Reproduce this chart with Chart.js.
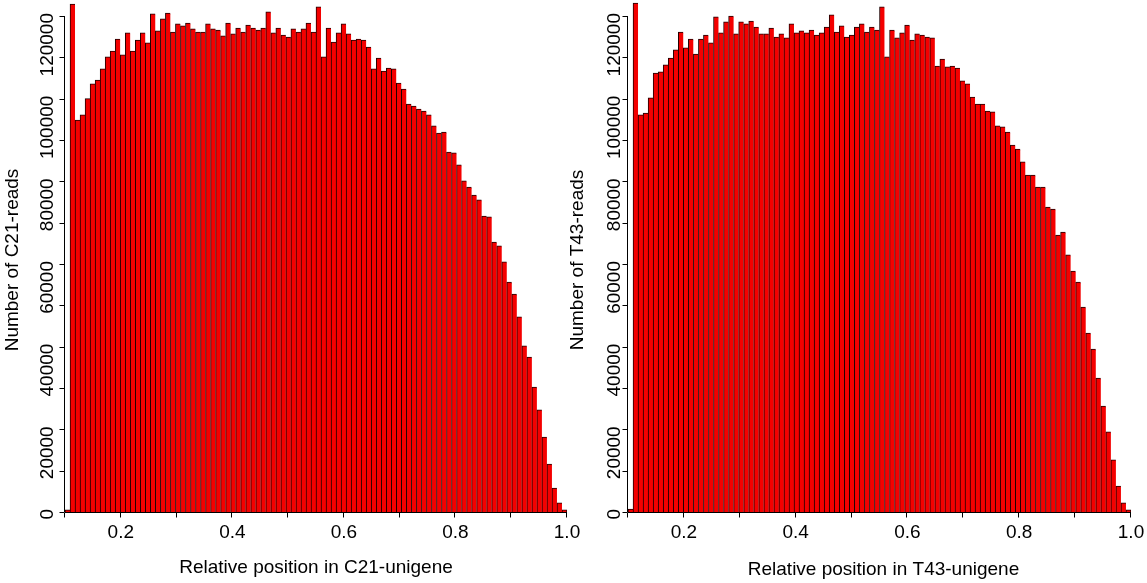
<!DOCTYPE html>
<html>
<head>
<meta charset="utf-8">
<script src="https://cdn.jsdelivr.net/npm/chart.js@4/dist/chart.umd.min.js"></script>
<style>
  html, body { margin: 0; padding: 0; background: #fff; }
  .panel { position: absolute; top: 0; left: 0; }
</style>
</head>
<body>
<canvas id="c21" class="panel" width="1147" height="583"></canvas>
<canvas id="t43" class="panel" width="1147" height="583"></canvas>
<script>
// reads per relative-position bin (100 bins between 0.1 and 1.0)
const c21Reads = [
  500, 122900, 94800, 96100, 100000, 103600, 104500, 107200, 110100, 111500,
  114400, 110600, 115900, 111500, 114200, 115900, 113500, 120500, 116400, 119300,
  120700, 116100, 118100, 117600, 118300, 116900, 116100, 116100, 118100, 116900,
  116600, 115200, 118300, 115700, 117100, 116100, 117800, 117100, 116600, 117100,
  121000, 115900, 117100, 115400, 114900, 116900, 116100, 116900, 118300, 116100,
  122200, 110100, 117100, 113700, 115900, 118100, 115700, 114200, 114400, 114200,
  112500, 107200, 109800, 106700, 107400, 107200, 103800, 102300, 98700, 98200,
  97500, 97000, 96100, 93400, 91700, 91900, 87100, 86900, 84000, 80100,
  78600, 76700, 75500, 71600, 71400, 65300, 64400, 60500, 55600, 52700,
  47200, 40200, 37500, 30200, 24700, 18100, 11600, 5800, 2200, 500
];
const t43Reads = [
  700, 123100, 96100, 96500, 100200, 106200, 106500, 108200, 109800, 111800,
  116100, 112300, 114400, 110800, 114400, 115400, 113500, 119800, 115900, 118600,
  120000, 115700, 118600, 118100, 118800, 117300, 115700, 115700, 117100, 114900,
  115700, 114700, 118100, 115900, 116400, 115900, 116600, 115400, 115900, 117300,
  120300, 116100, 117600, 114900, 115400, 117300, 118100, 116100, 117300, 116600,
  122200, 110100, 116600, 114700, 115900, 117800, 114200, 115700, 115400, 114900,
  114700, 107900, 109600, 107700, 107900, 107400, 104300, 103600, 100400, 98700,
  98700, 97000, 96800, 93400, 93200, 91900, 88800, 87800, 84700, 81500,
  81500, 78600, 78600, 73800, 73300, 67000, 67700, 62200, 58300, 55600,
  49600, 43300, 39400, 32400, 25600, 19400, 12600, 6300, 2200, 500
];
const binStart = 0.1;
const binWidth = 0.009;
const binLabels = c21Reads.map((_, i) => (binStart + binWidth * i).toFixed(3));

const xTicks = [0.1, 0.2, 0.3, 0.4, 0.5, 0.6, 0.7, 0.8, 0.9, 1.0];
const xTickLabels = ['', '0.2', '', '0.4', '', '0.6', '', '0.8', '', '1.0'];
const yTicks = [0, 10000, 20000, 30000, 40000, 50000, 60000, 70000, 80000, 90000, 100000, 110000, 120000];
const yTickLabels = ['0', '', '20000', '', '40000', '', '60000', '', '80000', '', '100000', '', '120000'];

const FONT = '19px "Liberation Sans", Arial, sans-serif';

// R-style axes drawn from the chart's own scales
const rAxes = {
  id: 'rAxes',
  afterDraw(chart, args, o) {
    const ctx = chart.ctx;
    const xs = chart.scales.xv;
    const ys = chart.scales.y;
    ctx.save();
    ctx.strokeStyle = '#000';
    ctx.fillStyle = '#000';
    ctx.lineWidth = 1;
    ctx.font = FONT;

    // x axis
    const yBase = Math.round(ys.getPixelForValue(0)) + 0.5;
    const xFirst = xs.getPixelForValue(xTicks[0]);
    const xLast = xs.getPixelForValue(xTicks[xTicks.length - 1]);
    ctx.beginPath();
    ctx.moveTo(xFirst, yBase);
    ctx.lineTo(xLast, yBase);
    xTicks.forEach(v => {
      const px = Math.round(xs.getPixelForValue(v)) - 0.5;
      ctx.moveTo(px, yBase);
      ctx.lineTo(px, yBase + 5);
    });
    ctx.stroke();
    ctx.textAlign = 'center';
    ctx.textBaseline = 'alphabetic';
    xTicks.forEach((v, i) => {
      if (xTickLabels[i]) ctx.fillText(xTickLabels[i], xs.getPixelForValue(v), 538);
    });
    ctx.fillText(o.xTitle, (xFirst + xLast) / 2 + o.xTitleShift, o.xTitleY);

    // y axis
    const xAxis = Math.round(xs.getPixelForValue(xTicks[0])) - 0.5;
    ctx.beginPath();
    ctx.moveTo(xAxis, ys.getPixelForValue(yTicks[0]));
    ctx.lineTo(xAxis, ys.getPixelForValue(yTicks[yTicks.length - 1]));
    yTicks.forEach(v => {
      const py = Math.round(ys.getPixelForValue(v)) + 0.5;
      ctx.moveTo(xAxis, py);
      ctx.lineTo(xAxis - 5, py);
    });
    ctx.stroke();
    yTicks.forEach((v, i) => {
      if (!yTickLabels[i]) return;
      ctx.save();
      ctx.translate(o.yLabelX, ys.getPixelForValue(v) - 3);
      ctx.rotate(-Math.PI / 2);
      ctx.textAlign = 'right';
      ctx.fillText(yTickLabels[i], 0, 0);
      ctx.restore();
    });
    ctx.save();
    ctx.translate(o.yTitleX, o.yTitleY);
    ctx.rotate(-Math.PI / 2);
    ctx.textAlign = 'center';
    ctx.fillText(o.yTitle, 0, 0);
    ctx.restore();

    ctx.restore();
  }
};

function makeHist(canvasId, values, pad, axisOpts) {
  const last = values.length - 1;
  return new Chart(document.getElementById(canvasId), {
    type: 'bar',
    data: {
      labels: binLabels,
      datasets: [{
        data: values,
        backgroundColor: '#f40000',
        borderColor: '#1e0000',
        borderWidth: (c) => c.dataIndex === last
          ? { left: 1, top: 1, right: 1, bottom: 0 }
          : { left: 1, top: 1, right: 0, bottom: 0 },
        borderSkipped: 'start',
        barPercentage: 1,
        categoryPercentage: 1,
      }]
    },
    options: {
      responsive: false,
      animation: false,
      layout: { padding: pad },
      plugins: {
        legend: { display: false },
        tooltip: { enabled: false },
        rAxes: axisOpts,
      },
      scales: {
        x: { type: 'category', display: false, offset: true },
        xv: { type: 'linear', axis: 'x', position: 'bottom', display: false, offset: false, min: 0.1, max: 1.0 },
        y: { type: 'linear', display: false, min: 0, max: 123870 }
      }
    },
    plugins: [rAxes]
  });
}

makeHist('c21', c21Reads, { left: 65, right: 580, top: 0, bottom: 71 }, {
  xTitle: 'Relative position in C21-unigene', xTitleY: 573, xTitleShift: 0,
  yTitle: 'Number of C21-reads', yTitleX: 18, yTitleY: 260,
  yLabelX: 53,
});
makeHist('t43', t43Reads, { left: 628, right: 16, top: 0, bottom: 71 }, {
  xTitle: 'Relative position in T43-unigene', xTitleY: 575, xTitleShift: 4,
  yTitle: 'Number of T43-reads', yTitleX: 583, yTitleY: 260,
  yLabelX: 620,
});
</script>
</body>
</html>
